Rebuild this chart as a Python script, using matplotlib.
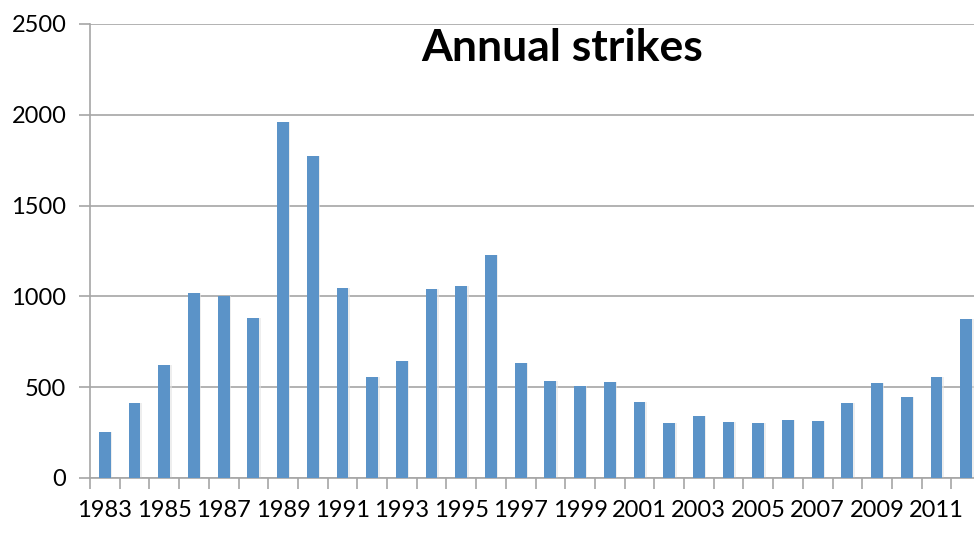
import matplotlib
matplotlib.use('Agg')
import matplotlib.pyplot as plt
import numpy as np

plt.rcParams['font.family'] = ['Lato', 'DejaVu Sans']

# Data
years = list(range(1983, 2013))
strikes = [253, 411, 623, 1018, 1001, 882, 1962, 1773, 1045, 558,
           643, 1040, 1060, 1229, 634, 533, 507, 527, 417, 301,
           343, 307, 301, 321, 316, 411, 522, 448, 555, 876]
y_ticks = [0, 500, 1000, 1500, 2000, 2500]

bar_color = '#5B93C8'
grid_color = '#A6A6A6'

fig = plt.figure(figsize=(9.74, 5.46), dpi=100)
# axes runs slightly past the right edge, as in the cropped original
ax = fig.add_axes([90 / 974, 68 / 546, 891 / 974, 454 / 546])

x = np.arange(len(years))
ax.bar(x + 0.05, strikes, width=0.4, color='#E3E3E3', alpha=0.6, zorder=2)
ax.bar(x, strikes, width=0.4, color=bar_color, zorder=3)

ax.set_xlim(-0.5, len(years) - 0.5)
ax.set_ylim(0, 2500)

# y axis
ax.set_yticks(y_ticks)
ax.set_yticklabels([str(v) for v in y_ticks], fontsize=17)
ax.yaxis.grid(True, color=grid_color, linewidth=1.2, zorder=0)
ax.set_axisbelow(True)
ax.tick_params(axis='y', direction='out', length=8, width=1.2,
               color=grid_color, pad=9)

# x axis: labels on every other year, tick marks between categories
ax.set_xticks(x[::2])
ax.set_xticklabels([str(y) for y in years[::2]], fontsize=17)
ax.set_xticks(np.arange(len(years) + 1) - 0.5, minor=True)
ax.tick_params(axis='x', which='major', length=0, pad=16)
ax.tick_params(axis='x', which='minor', direction='out', length=8,
               width=1.2, color=grid_color)

for side in ['top', 'right']:
    ax.spines[side].set_visible(False)
for side in ['left', 'bottom']:
    ax.spines[side].set_color(grid_color)
    ax.spines[side].set_linewidth(1.2)

fig.text(562 / 974, 1 - 48 / 546, 'Annual strikes', fontsize=32,
         fontweight='bold', ha='center', va='center')

fig.savefig('out.png', dpi=100, facecolor='white')
